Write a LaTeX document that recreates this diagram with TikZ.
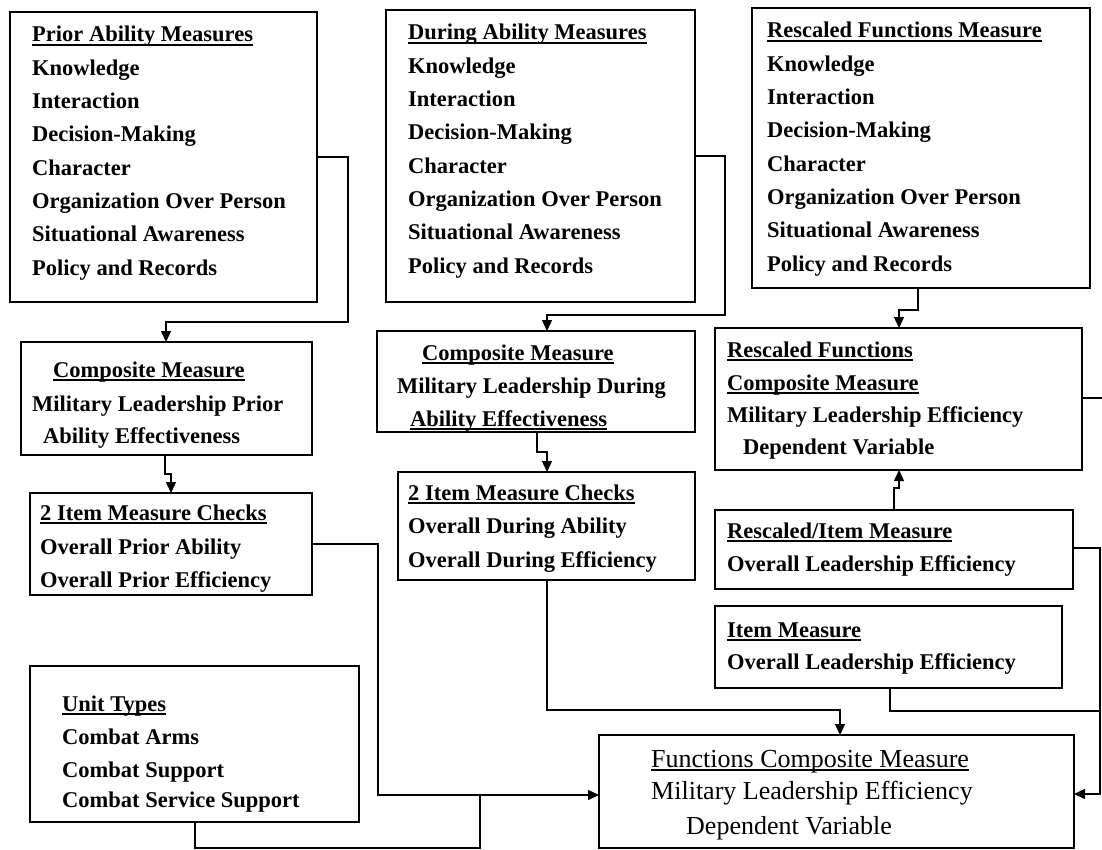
\documentclass[tikz,border=0pt]{standalone}
\usepackage{fontspec}
\setmainfont{Liberation Serif}
\usetikzlibrary{arrows.meta}

% underline drawn at a fixed depth below the baseline
\newcommand\ultext[1]{\setbox0\hbox{#1}\rlap{\rule[-3.6pt]{\wd0}{1.3pt}}\box0}

\tikzset{
  boxnode/.style={draw, line width=1.4pt, rectangle, inner sep=0pt, outer sep=0pt, anchor=north west},
  txt/.style={anchor=base west, inner sep=0pt, font=\fontsize{22.5}{27}\selectfont\bfseries},
  bigtxt/.style={anchor=base west, inner sep=0pt, font=\fontsize{26}{30}\selectfont},
  conn/.style={line width=1.4pt},
  arr/.style={conn, -{Triangle[length=11pt,width=10pt]}}
}

\begin{document}
\begin{tikzpicture}[x=1pt,y=-1pt]
\useasboundingbox (0,0) rectangle (1102,850);

% ---------- measure lists ----------
\node[boxnode, minimum width=307pt, minimum height=290pt] (p1) at (10,12) {};
\node[boxnode, minimum width=309pt, minimum height=292pt] (p2) at (386,10) {};
\node[boxnode, minimum width=338pt, minimum height=280pt] (p3) at (752,8) {};

\foreach \t [count=\i] in {\ultext{Prior Ability Measures},Knowledge,Interaction,Decision-Making,Character,Organization Over Person,Situational Awareness,Policy and Records}
  \node[txt] (p1t\i) at (32,{42+33.3*(\i-1)}) {\t};
\foreach \t [count=\i] in {\ultext{During Ability Measures},Knowledge,Interaction,Decision-Making,Character,Organization Over Person,Situational Awareness,Policy and Records}
  \node[txt] (p2t\i) at (408,{40+33.3*(\i-1)}) {\t};
\foreach \t [count=\i] in {\ultext{Rescaled Functions Measure},Knowledge,Interaction,Decision-Making,Character,Organization Over Person,Situational Awareness,Policy and Records}
  \node[txt] (p3t\i) at (767,{38+33.3*(\i-1)}) {\t};

% ---------- composite measures ----------
\node[boxnode, minimum width=291pt, minimum height=113pt] (c1) at (21,342) {};
\node[txt] (c1t1) at (53,377) {\ultext{Composite Measure}};
\node[txt] (c1t2) at (32,411) {Military Leadership Prior};
\node[txt] (c1t3) at (43,443) {Ability Effectiveness};

\node[boxnode, minimum width=318pt, minimum height=101pt] (c2) at (377,331) {};
\node[txt] (c2t1) at (422,360) {\ultext{Composite Measure}};
\node[txt] (c2t2) at (397,393) {Military Leadership During};
\node[txt] (c2t3) at (410,426) {\ultext{Ability Effectiveness}};

\node[boxnode, minimum width=367pt, minimum height=142pt] (r1) at (715,328) {};
\node[txt] (r1t1) at (727,357) {\ultext{Rescaled Functions}};
\node[txt] (r1t2) at (727,390) {\ultext{Composite Measure}};
\node[txt] (r1t3) at (727,422) {Military Leadership Efficiency};
\node[txt] (r1t4) at (743,454) {Dependent Variable};

% ---------- item measures ----------
\node[boxnode, minimum width=282pt, minimum height=102pt] (i1) at (30,493) {};
\node[txt] (i1t1) at (40,520) {\ultext{2 Item Measure Checks}};
\node[txt] (i1t2) at (40,554) {Overall Prior Ability};
\node[txt] (i1t3) at (40,587) {Overall Prior Efficiency};

\node[boxnode, minimum width=297pt, minimum height=108pt] (i2) at (398,472) {};
\node[txt] (i2t1) at (408,500) {\ultext{2 Item Measure Checks}};
\node[txt] (i2t2) at (408,533) {Overall During Ability};
\node[txt] (i2t3) at (408,567) {Overall During Efficiency};

\node[boxnode, minimum width=358pt, minimum height=79pt] (r2) at (715,510) {};
\node[txt] (r2t1) at (727,538) {\ultext{Rescaled/Item Measure}};
\node[txt] (r2t2) at (727,571) {Overall Leadership Efficiency};

\node[boxnode, minimum width=347pt, minimum height=82pt] (im) at (715,606) {};
\node[txt] (imt1) at (727,637) {\ultext{Item Measure}};
\node[txt] (imt2) at (727,669) {Overall Leadership Efficiency};

% ---------- unit types ----------
\node[boxnode, minimum width=329pt, minimum height=156pt] (u) at (30,666) {};
\node[txt] (ut1) at (62,711) {\ultext{Unit Types}};
\node[txt] (ut2) at (62,744) {Combat Arms};
\node[txt] (ut3) at (62,777) {Combat Support};
\node[txt] (ut4) at (62,807) {Combat Service Support};

% ---------- dependent variable ----------
\node[boxnode, minimum width=475pt, minimum height=113pt] (f) at (599,735) {};
\node[bigtxt] (ft1) at (651,767) {\ultext{Functions Composite Measure}};
\node[bigtxt] (ft2) at (651,799) {Military Leadership Efficiency};
\node[bigtxt] (ft3) at (686,834) {Dependent Variable};

% ---------- connectors ----------
\coordinate (edgeR) at (1102,398);
\draw[arr] (p1.east) -- (348,157) |- (166,322) -- (166,0 |- c1.north);
\draw[arr] (p2.east) -- (725,156) |- (547,315) -- (547,0 |- c2.north);
\draw[arr] (918,0 |- p3.south) -- (918,310) -| (899,0 |- r1.north);
\draw[arr] (165,0 |- c1.south) -- (165,474) -| (171,0 |- i1.north);
\draw[arr] (537,0 |- c2.south) -- (537,452) -| (547,0 |- i2.north);
\draw[arr] (894,0 |- r2.north) -- (894,488) -| (899,0 |- r1.south);
\draw[conn] (1082,398) -- (edgeR);
\draw[arr] (312,544) -- (378,544) |- (f.west |- 0,795);
\draw[arr] (547,0 |- i2.south) |- (840,710) -- (840,0 |- f.north);
\draw[arr] (1073,548) -- (1100,548) |- (f.east |- 0,794);
\draw[conn] (890,0 |- im.south) |- (1100,711);
\draw[conn] (195,0 |- u.south) |- (480,848) -- (480,795);
\end{tikzpicture}
\end{document}
